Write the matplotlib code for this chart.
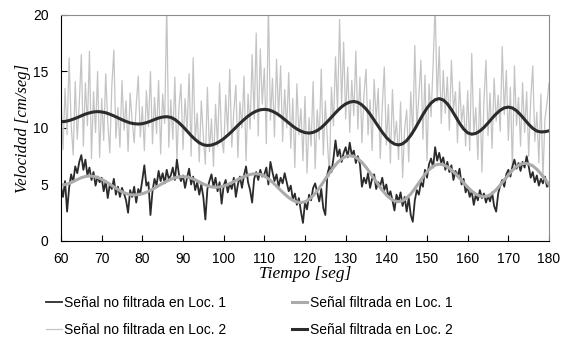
import numpy as np
import matplotlib.pyplot as plt

# time axis of the sampled records (0.5 s) and of the filtered curves (1 s)
t_raw = np.arange(60, 180.01, 0.5)
t_filt = np.arange(60, 181, 1)

# Loc. 1, unfiltered (dark, lower band)
loc1_raw = [
    4.8, 3.9, 5.3, 2.6, 4.7, 5.9, 5.2, 6.6, 6.0, 7.0,
    7.6, 6.3, 7.2, 5.8, 6.5, 5.4, 6.1, 4.9, 5.7, 5.2,
    5.6, 4.4, 5.3, 3.8, 5.0, 4.6, 5.5, 4.1, 4.8, 3.9,
    4.7, 4.2, 3.6, 2.5, 4.5, 3.9, 4.8, 3.4, 4.6, 4.2,
    5.4, 6.7, 4.9, 5.2, 2.3, 4.4, 5.5, 4.9, 6.2, 5.3,
    6.0, 5.1, 6.3, 5.5, 5.8, 6.5, 5.4, 7.2, 5.9, 5.3,
    5.8, 4.7, 5.6, 6.4, 5.0, 5.7, 4.5, 5.2, 4.1, 5.0,
    3.9, 1.9, 4.6, 5.3, 5.9, 4.8, 5.6, 4.4, 5.2, 3.3,
    4.9, 5.4, 4.3, 5.1, 4.6, 5.6, 3.9, 5.0, 5.7, 4.7,
    5.8, 6.6, 5.2, 4.5, 3.4, 5.5, 6.1, 5.4, 6.3, 5.7,
    5.9, 6.5, 5.0, 7.0, 6.1, 5.3, 5.9, 4.8, 5.6, 5.1,
    6.0, 5.2, 4.4, 4.9, 3.7, 4.2, 3.2, 3.8, 2.6, 1.6,
    3.4, 2.8, 4.1, 3.6, 4.7, 5.1, 4.3, 3.5, 4.6, 2.9,
    2.3, 5.9, 6.6, 6.1, 7.3, 8.9, 7.5, 8.1, 7.0, 7.8,
    8.3, 7.4, 8.7, 7.6, 8.0, 6.9, 7.5, 6.8, 4.8, 5.6,
    5.1, 6.0, 4.7, 5.5, 5.9, 4.6, 5.2, 4.9, 5.6, 4.5,
    5.0, 3.9, 4.4, 3.6, 2.7, 4.1, 3.5, 4.3, 3.1, 3.9,
    2.6, 3.8, 2.3, 1.7, 3.6, 4.5, 4.1, 5.2, 4.8, 6.3,
    5.6, 6.8, 7.3, 6.5, 8.3, 7.1, 7.8, 6.9, 7.4, 6.3,
    7.0, 6.1, 6.7, 5.4, 6.2, 5.7, 6.4, 5.0, 5.5, 4.3,
    4.8, 3.9, 4.4, 3.2, 4.1, 3.6, 4.5, 3.8, 4.2, 3.4,
    4.0, 3.5, 4.3, 3.1, 2.6, 4.2, 4.9, 5.4, 4.8, 5.9,
    6.3, 5.7, 6.6, 7.2, 6.4, 6.9, 6.2, 7.0, 6.5, 7.5,
    6.6, 5.6, 6.1, 5.2, 5.8, 4.9, 5.5, 5.1, 5.7, 4.8,
    5.0,
]

# Loc. 2, unfiltered (light gray, upper band)
loc2_raw = [
    12.8, 8.1, 13.5, 9.4, 16.2, 10.3, 7.6, 14.1, 9.0, 12.2,
    16.5, 8.4, 14.0, 10.2, 16.8, 7.3, 13.2, 9.6, 15.0, 7.4,
    12.6, 8.9, 14.8, 10.5, 7.8, 13.7, 16.9, 9.1, 11.8, 8.3,
    14.2, 9.8, 12.4, 7.9, 13.1, 10.6, 8.7, 12.0, 14.6, 9.2,
    11.9, 8.0, 13.3, 10.1, 15.0, 8.6, 12.7, 9.5, 14.2, 7.7,
    13.0, 10.4, 21.0, 8.3, 12.5, 9.0, 14.5, 7.2, 11.8, 13.9,
    8.1, 12.6, 9.7, 14.8, 7.5, 16.2, 8.9, 11.3, 7.0, 12.4,
    9.3, 6.8, 13.6, 7.9, 10.8, 6.6, 12.1, 8.4, 14.0, 9.1,
    7.8, 12.9, 9.6, 15.2, 8.3, 11.5, 13.8, 7.4, 12.3, 10.0,
    14.6, 7.1, 13.0, 9.9, 16.5, 10.8, 18.4, 9.3, 17.0, 12.1,
    15.3, 8.6, 21.0, 10.7, 14.4, 9.2, 16.1, 11.0, 15.5, 8.8,
    13.4, 10.0, 14.9, 8.2, 12.6, 6.5, 13.9, 9.4, 11.7, 7.1,
    12.8, 6.0, 10.9, 8.4, 14.1, 6.4, 11.6, 9.0, 15.2, 7.6,
    12.4, 8.9, 5.7, 13.6, 10.2, 16.3, 11.4, 19.6, 12.0, 17.6,
    10.8, 15.4, 9.6, 14.2, 11.1, 16.8, 9.9, 14.5, 8.7, 13.0,
    15.2, 9.4, 12.5, 8.0, 14.3, 10.7, 13.5, 7.3, 11.9, 15.4,
    8.5, 12.1, 6.9, 13.4, 8.8, 10.6, 7.2, 12.3, 5.6, 9.9,
    11.6, 7.0, 13.2, 9.4, 17.3, 10.1, 12.8, 16.0, 9.0, 14.7,
    7.1, 13.9, 11.0, 15.6, 21.0, 12.3, 17.2, 10.4, 15.1, 11.3,
    14.5, 9.8, 16.0, 11.6, 13.2, 8.7, 14.1, 10.5, 12.0, 8.4,
    13.3, 8.0, 16.6, 9.5, 11.8, 7.2, 13.5, 6.1, 12.4, 16.0,
    9.3, 13.1, 8.2, 14.4, 10.6, 12.9, 9.7, 17.2, 11.2, 15.1,
    8.9, 13.6, 6.3, 15.5, 10.2, 12.7, 8.4, 14.0, 9.6, 13.2,
    7.5, 12.5, 15.5, 8.8, 11.4, 6.9, 13.0, 5.5, 10.8, 12.2,
    14.0,
]

# filtered signals, one value per second
loc1_filt = [
    4.95, 4.99, 5.10, 5.26, 5.44, 5.60, 5.71, 5.75, 5.72, 5.62,
    5.46, 5.26, 5.03, 4.79, 4.56, 4.36, 4.20, 4.10, 4.07, 4.10,
    4.18, 4.31, 4.48, 4.67, 4.89, 5.10, 5.29, 5.46, 5.59, 5.67,
    5.70, 5.66, 5.56, 5.41, 5.23, 5.04, 4.89, 4.79, 4.75, 4.78,
    4.86, 5.00, 5.16, 5.35, 5.54, 5.70, 5.84, 5.92, 5.95, 5.90,
    5.75, 5.51, 5.20, 4.86, 4.49, 4.15, 3.84, 3.60, 3.45, 3.40,
    3.47, 3.68, 4.01, 4.44, 4.94, 5.48, 6.01, 6.51, 6.94, 7.27,
    7.48, 7.55, 7.48, 7.28, 6.96, 6.53, 6.04, 5.52, 4.99, 4.50,
    4.07, 3.75, 3.55, 3.48, 3.56, 3.80, 4.16, 4.63, 5.14, 5.65,
    6.12, 6.48, 6.72, 6.80, 6.74, 6.57, 6.30, 5.96, 5.56, 5.16,
    4.76, 4.42, 4.15, 3.98, 3.92, 3.99, 4.20, 4.53, 4.94, 5.40,
    5.85, 6.26, 6.59, 6.80, 6.87, 6.82, 6.65, 6.35, 5.95, 5.48,
    5.00,
]

loc2_filt = [
    10.55, 10.58, 10.66, 10.78, 10.92, 11.08, 11.23, 11.34, 11.42, 11.45,
    11.42, 11.35, 11.22, 11.07, 10.90, 10.73, 10.58, 10.45, 10.38, 10.35,
    10.38, 10.47, 10.60, 10.75, 10.88, 10.97, 11.00, 10.94, 10.76, 10.47,
    10.12, 9.73, 9.33, 8.98, 8.69, 8.51, 8.45, 8.49, 8.61, 8.80,
    9.05, 9.36, 9.69, 10.05, 10.41, 10.74, 11.05, 11.30, 11.49, 11.61,
    11.65, 11.61, 11.48, 11.29, 11.04, 10.75, 10.45, 10.16, 9.91, 9.72,
    9.59, 9.55, 9.61, 9.77, 10.03, 10.37, 10.75, 11.15, 11.53, 11.87,
    12.13, 12.29, 12.35, 12.27, 12.04, 11.69, 11.22, 10.70, 10.15, 9.63,
    9.16, 8.81, 8.58, 8.50, 8.60, 8.89, 9.34, 9.91, 10.55, 11.19,
    11.76, 12.21, 12.50, 12.60, 12.48, 12.14, 11.63, 11.03, 10.42, 9.91,
    9.57, 9.45, 9.52, 9.73, 10.05, 10.44, 10.86, 11.25, 11.57, 11.78,
    11.85, 11.77, 11.53, 11.17, 10.75, 10.33, 9.97, 9.73, 9.65, 9.67,
    9.75,
]

dark = '#2b2b2b'
light = '#c4c4c4'
mid = '#ababab'

fig = plt.figure(figsize=(5.71, 3.43), dpi=100)
ax = fig.add_axes([0.1068, 0.2974, 0.8547, 0.6589])

l2r, = ax.plot(t_raw, loc2_raw, color=light, lw=0.9)
l1r, = ax.plot(t_raw, loc1_raw, color=dark, lw=1.3)
l1f, = ax.plot(t_filt, loc1_filt, color=mid, lw=2.2)
l2f, = ax.plot(t_filt, loc2_filt, color=dark, lw=2.2)

ax.set_xlim(60, 180)
ax.set_ylim(0, 20)
ax.set_xticks(np.arange(60, 181, 10))
ax.set_yticks([0, 5, 10, 15, 20])
ax.tick_params(direction='in', length=4, labelsize=10)
ax.tick_params(axis='x', pad=8)
ax.tick_params(axis='y', pad=9)
for lab in ax.get_xticklabels() + ax.get_yticklabels():
    lab.set_family('Liberation Sans')
for s in ['top', 'right']:
    ax.spines[s].set_color('#8c8c8c')
for s in ['left', 'bottom']:
    ax.spines[s].set_color('black')

lab_font = dict(family='Liberation Serif', style='italic', size=12.5)
ax.set_xlabel('Tiempo [seg]', labelpad=0, **lab_font)
ax.set_ylabel('Velocidad [cm/seg]', labelpad=1, family='Liberation Serif',
              style='italic', size=12)

fig.legend([l1r, l2r, l1f, l2f],
           ['Señal no filtrada en Loc. 1', 'Señal no filtrada en Loc. 2',
            'Señal filtrada en Loc. 1', 'Señal filtrada en Loc. 2'],
           ncol=2, loc='center', bbox_to_anchor=(0.437, 0.077),
           frameon=False, handlelength=1.1, handletextpad=0.2,
           columnspacing=4.7, labelspacing=0.9,
           prop={'family': 'Liberation Sans', 'size': 10})

fig.savefig('out.png', dpi=100)
